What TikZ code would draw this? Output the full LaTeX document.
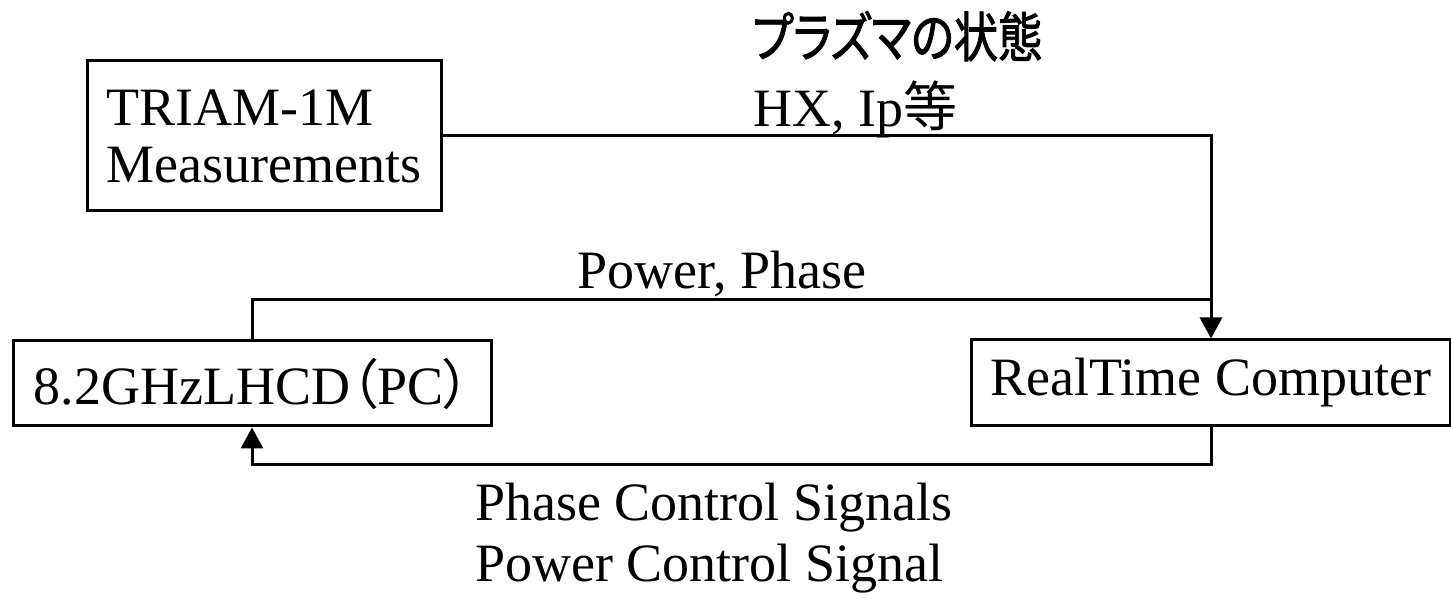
\documentclass[tikz,border=0pt]{standalone}
\usepackage{fontspec}
\setmainfont{Liberation Serif}
\newfontfamily\jpfont[RawFeature=+palt]{Noto Sans CJK JP}
\newfontfamily\jphead[RawFeature=+palt, FakeStretch=0.82, FakeBold=1.6]{Noto Sans CJK JP}
\usetikzlibrary{arrows.meta,positioning}

\begin{document}
\begin{tikzpicture}[
    x=0.5pt, y=-0.5pt,
    font=\fontsize{27}{28.5}\selectfont,
    box/.style={rectangle, draw, line width=1.5pt, inner sep=0pt, align=left},
    lbl/.style={inner sep=0pt, anchor=base west},
    link/.style={line width=1.5pt},
    arr/.style={link, -{Triangle[width=11pt, length=10.5pt]}}
]
\useasboundingbox[fill=white] (0,0) rectangle (1451,603);

% Nodes
\node[box, minimum width=177pt, minimum height=75pt] (triam) at (264,136) {TRIAM-1M\\Measurements};
\node[box, minimum width=239pt, minimum height=42.5pt] (lhcd) at (252,383.5) {8.2GHzLHCD{\jpfont （}PC{\jpfont ）}};
\node[box, minimum width=239.5pt, minimum height=43pt] (rtc) at (1211,383) {RealTime Computer};

\node[lbl] (state) at (752,57) {\jphead プラズマの状態};
\node[lbl] (hx) at (753,127) {HX, Ip{\jpfont 等}};
\node[lbl] (pp) at (577,289) {Power, Phase};
\node[lbl, align=left, font=\fontsize{27}{31}\selectfont] (ctrl) at (475,582) {Phase Control Signals\\Power Control Signal};

\coordinate (ppjoin) at (1211,300);
\coordinate (fbline) at (252,465);

% Arrows
\draw[arr] (triam.east) -| (rtc.north);
\draw[link] (lhcd.north) |- (ppjoin);
\draw[arr] (rtc.south) |- (fbline) -- (lhcd.south);
\end{tikzpicture}
\end{document}
